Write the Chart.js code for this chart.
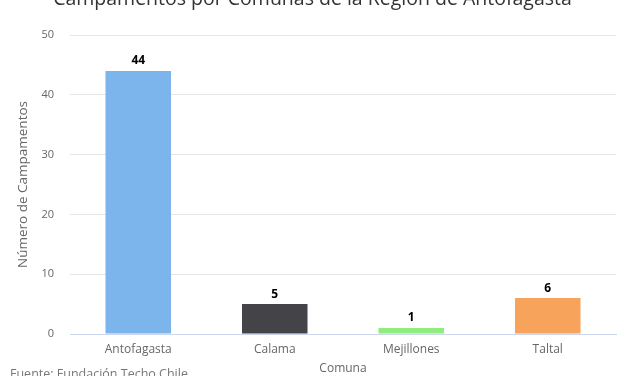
<!DOCTYPE html>
<html>
<head>
<meta charset="utf-8">
<script src="https://cdn.jsdelivr.net/npm/chart.js@4/dist/chart.umd.min.js"></script>
<style>
  html, body { margin: 0; padding: 0; background: #fff; }
  #wrap { width: 627px; height: 376px; position: relative; }
</style>
</head>
<body>
<div id="wrap"><canvas id="chart"></canvas></div>
<script>
const comunas = ['Antofagasta', 'Calama', 'Mejillones', 'Taltal']
const campamentos = [44, 5, 1, 6]
const colores = ['#7cb5ec', '#434348', '#90ed7d', '#f7a35c']
const titulo = 'Campamentos por Comunas de la Región de Antofagasta'
const fuente = 'Fuente: Fundación Techo Chile'

const FONT = '"Open Sans", sans-serif'

// value labels, title and credits
const extras = {
    id: 'extras',
    afterDatasetsDraw(chart) {
        const ctx = chart.ctx
        ctx.save()
        ctx.font = 'bold 12px ' + FONT
        ctx.fillStyle = '#000'
        ctx.textAlign = 'center'
        ctx.textBaseline = 'bottom'
        chart.getDatasetMeta(0).data.forEach((bar, i) => {
            ctx.fillText(campamentos[i], bar.x, bar.y - 4)
        })
        ctx.restore()
    },
    afterDraw(chart) {
        const ctx = chart.ctx
        ctx.save()
        ctx.fillStyle = '#333'
        ctx.font = '19.5px ' + FONT
        ctx.textAlign = 'center'
        ctx.textBaseline = 'alphabetic'
        ctx.fillText(titulo, chart.width / 2 - 1, 5)
        ctx.fillStyle = '#777'
        ctx.font = '12.5px ' + FONT
        ctx.textAlign = 'left'
        ctx.fillText(fuente, 10, 378)
        ctx.restore()
    }
}

new Chart(document.getElementById('chart'), {
    type: 'bar',
    data: {
        labels: comunas,
        datasets: [{
            data: campamentos,
            backgroundColor: colores,
            borderWidth: 0,
            barPercentage: 0.48,
            categoryPercentage: 1
        }]
    },
    options: {
        responsive: true,
        maintainAspectRatio: false,
        animation: false,
        layout: { padding: { top: 35, right: 11, left: 0, bottom: 0 } },
        plugins: {
            legend: { display: false },
            tooltip: { enabled: false }
        },
        scales: {
            x: {
                grid: { display: false, drawTicks: false },
                border: { color: '#ccd6eb' },
                ticks: { color: '#666', font: { family: FONT, size: 12 }, padding: 8 },
                title: { display: true, text: 'Comuna', color: '#666', font: { family: FONT, size: 12 }, padding: { top: 2, bottom: 0 } },
                afterFit(scale) { scale.height = 42 }
            },
            y: {
                min: 0,
                max: 50,
                ticks: { stepSize: 10, color: '#666', font: { family: FONT, size: 11 }, padding: 16 },
                grid: { color: '#e6e6e6', drawTicks: false },
                border: { display: false },
                title: { display: true, text: 'Número de Campamentos', color: '#666', font: { family: FONT, size: 13.5 }, padding: { top: 15, bottom: 4 } },
                afterFit(scale) { scale.width = 70 }
            }
        }
    },
    plugins: [extras]
})
</script>
</body>
</html>
